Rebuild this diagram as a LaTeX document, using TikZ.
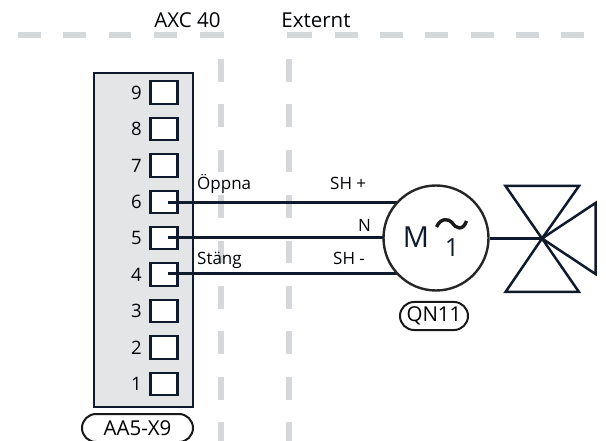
\documentclass[tikz,border=0pt]{standalone}
\usepackage{fontspec}
\setmainfont{Open Sans}
\usetikzlibrary{shapes.misc}
\definecolor{ink}{HTML}{0F1B2D}
\definecolor{dashc}{HTML}{D5D8DB}
\definecolor{boxc}{HTML}{E4E5E7}
\tikzset{
 sep/.style={draw=dashc,line width=5.5pt},
 term/.style={draw=ink,fill=white,line width=2.1pt,minimum width=27pt,minimum height=22.5pt,inner sep=0pt,outer sep=0pt},
 wire/.style={draw=ink,line width=2.5pt},
 lbl/.style={font=\fontsize{17}{19}\selectfont,text=black!85!ink,inner sep=0pt},
 num/.style={font=\fontsize{18.5}{20}\selectfont,text=black!85!ink,inner sep=0pt},
 head/.style={font=\fontsize{20.5}{22}\selectfont,text=black!85!ink,inner sep=0pt},
 pill/.style={draw=black!90,fill=white,line width=2pt,rounded rectangle,inner sep=0pt,font=\fontsize{20.5}{22}\selectfont},
}
\begin{document}
\begin{tikzpicture}[x=1pt,y=-1pt]
\useasboundingbox (0,0) rectangle (606,441);
\foreach \a/\e in {18/41,63.4/86,108.8/131,154.2/177,199.6/224,287/312,335/358,380/403,425.4/448,471/494,516/539,561.4/584}
  \draw[sep] (\a,35) -- (\e,35);
\foreach \b in {59,104.4,149.8,195.2,240.6,286,331.4,376.8,422.2}
  {\draw[sep] (221,\b) -- ++(0,22.7);
   \draw[sep] (289,\b) -- ++(0,22.7);}
\node[head,anchor=base] (axc) at (187.5,28) {AXC 40};
\node[head,anchor=base] (ext) at (316,28) {Externt};
\node[draw=ink,fill=boxc,line width=2pt,minimum width=99pt,minimum height=334pt,inner sep=0pt,anchor=north west] (box) at (93,72) {};
\foreach \n/\y in {9/92.5,8/129,7/165.5,6/202,5/238,4/274.5,3/311,2/347.5,1/384}{
  \node[term] (t\n) at (164,\y) {};
  \node[num,anchor=east] (n\n) at (142,\y) {\n};
}
\coordinate (motc) at (436,238);
\coordinate (vc) at (542,238.5);
\coordinate (w6) at (168,202.5);
\coordinate (w5) at (168,237.5);
\coordinate (w4) at (168,273.5);
\draw[wire] (w6) -- (w6 -| motc);
\draw[wire] (w5) -- (w5 -| motc);
\draw[wire] (w4) -- (w4 -| motc);
\node[draw=black!85,fill=white,line width=2.4pt,circle,minimum size=105pt,inner sep=0pt] (mot) at (motc) {};
\draw[wire] (mot.east |- vc) -- (vc);
\draw[wire,line join=miter] (vc) -- (505.5,186) -- (579,186) -- cycle;
\draw[wire,line join=miter] (vc) -- (505.5,292) -- (579,292) -- cycle;
\draw[wire,line join=miter] (vc) -- (595.5,203) -- (595.5,274) -- cycle;
\node[lbl,anchor=base west] (op) at (197,190) {Öppna};
\node[lbl,anchor=base west] (st) at (197,265) {Stäng};
\node[lbl,anchor=base west] (shp) at (330,190) {SH +};
\node[lbl,anchor=base west] (nn) at (358,232) {N};
\node[lbl,anchor=base west] (shm) at (333,265) {SH -};
\node[font=\fontsize{29}{31}\selectfont,text=ink,inner sep=0pt,anchor=base] (m) at (416,248) {M};
\node[font=\fontsize{25}{27}\selectfont,text=ink,inner sep=0pt,anchor=base] (one) at (452,256.5) {1};
\draw[draw=black!90,line width=3.4pt] (436.5,227) .. controls (441,217) and (449,219) .. (452,222.5) .. controls (456,229) and (463,231) .. (466.5,221);
\node[pill,minimum width=68pt,minimum height=28pt] (qn) at (434,316) {QN11};
\node[pill,minimum width=111pt,minimum height=28pt] (aa) at (137.5,428) {AA5-X9};
\end{tikzpicture}
\end{document}
